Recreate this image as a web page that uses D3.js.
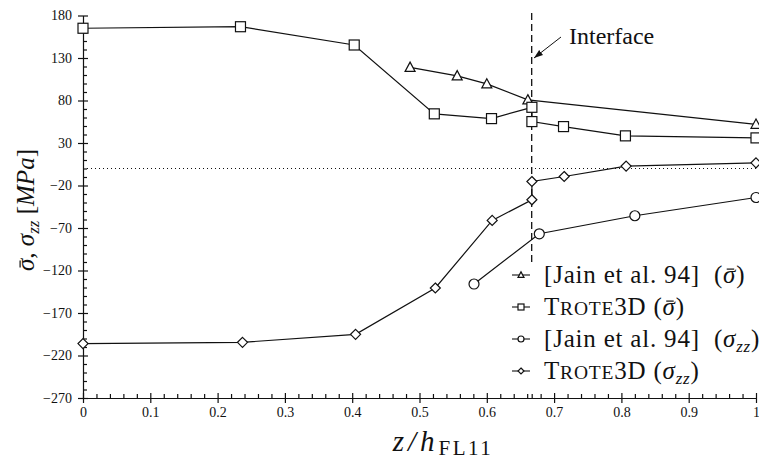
<!DOCTYPE html>
<html>
<head>
<meta charset="utf-8">
<script src="https://cdn.jsdelivr.net/npm/d3@7"></script>
<style>
  body { margin: 0; background: #fff; }
  svg { display: block; }
  text { font-family: "Liberation Serif", "Times New Roman", serif; fill: #111; }
</style>
</head>
<body>
<svg id="chart" width="759" height="460"></svg>
<script>
// ---- data ----
const xTicks = [0, 0.1, 0.2, 0.3, 0.4, 0.5, 0.6, 0.7, 0.8, 0.9, 1];
const xTickLabels = ["0", "0.1", "0.2", "0.3", "0.4", "0.5", "0.6", "0.7", "0.8", "0.9", "1"];
const yTicks = [-270, -220, -170, -120, -70, -20, 30, 80, 130, 180];

const jainBarZ = [0.486, 0.556, 0.600, 0.661, 1.0];
const jainBarV = [119, 109, 99.5, 80.7, 52];

const troteBarZ = [0, 0.234, 0.403, 0.522, 0.607, 0.667, 0.667, 0.714, 0.806, 1.0];
const troteBarV = [165, 166.8, 145.3, 64.3, 58.7, 72, 55.2, 49.3, 38.4, 36];

const jainZzZ = [0.581, 0.678, 0.820, 1.0];
const jainZzV = [-135.9, -76.8, -55.6, -34.1];

const troteZzZ = [0, 0.237, 0.405, 0.5235, 0.608, 0.667, 0.667, 0.715, 0.807, 1.0];
const troteZzV = [-206, -204.5, -195.1, -140.6, -61.1, -36.8, -15.3, -9.4, 2.8, 6.7];

const interfaceZ = 0.6667;

// ---- setup ----
const svg = d3.select("#chart");
const x = d3.scaleLinear().domain([0, 1]).range([83, 756]);
const y = d3.scaleLinear().domain([-270, 180]).range([398, 15.5]);
const ink = "#111";

// zero dotted line
svg.append("line")
  .attr("x1", x(0)).attr("x2", x(1)).attr("y1", y(0)).attr("y2", y(0))
  .attr("stroke", ink).attr("stroke-width", 1).attr("stroke-dasharray", "1,3");

// interface dashed line
svg.append("line")
  .attr("x1", x(interfaceZ)).attr("x2", x(interfaceZ)).attr("y1", 13).attr("y2", 262)
  .attr("stroke", ink).attr("stroke-width", 1.3).attr("stroke-dasharray", "7,4");

// ---- axes ----
const yMinor = d3.range(-270, 181, 10).filter(v => !yTicks.includes(v));
const yAxisMinor = d3.axisLeft(y).tickValues(yMinor).tickSize(-4).tickFormat("").tickSizeOuter(0);
const yAxis = d3.axisLeft(y).tickValues(yTicks).tickSize(5).tickPadding(6).tickSizeOuter(0);
const gyMinor = svg.append("g").attr("transform", `translate(${x(0)},0)`).call(yAxisMinor);
gyMinor.select(".domain").remove();
const gy = svg.append("g").attr("transform", `translate(${x(0)},0)`).call(yAxis);
gy.selectAll(".tick line").attr("x2", -5).attr("x1", 5);
gy.selectAll(".tick text").style("font-family", "Liberation Serif").style("font-size", "14px");

const xMinor = d3.range(0, 1.0001, 0.02).map(v => +v.toFixed(2)).filter(v => Math.abs(v * 10 - Math.round(v * 10)) > 1e-6).concat([interfaceZ]);
const xAxisMinor = d3.axisBottom(x).tickValues(xMinor).tickSize(-4).tickFormat("").tickSizeOuter(0);
const xAxis = d3.axisBottom(x).tickValues(xTicks).tickSize(5).tickPadding(4).tickSizeOuter(0)
  .tickFormat((d, i) => xTickLabels[i]);
const gxMinor = svg.append("g").attr("transform", `translate(0,${y(-270)})`).call(xAxisMinor);
gxMinor.select(".domain").remove();
const gx = svg.append("g").attr("transform", `translate(0,${y(-270)})`).call(xAxis);
gx.selectAll(".tick line").attr("y1", -5).attr("y2", 5);
gx.selectAll(".tick text").style("font-family", "Liberation Serif").style("font-size", "14px");
svg.selectAll(".domain, .tick line").attr("stroke", ink).attr("stroke-width", 1.2);

// ---- marker drawers ----
function drawMarker(g, type, cx, cy, s) {
  let el;
  if (type === "square") {
    el = g.append("rect").attr("x", cx - s / 2).attr("y", cy - s / 2).attr("width", s).attr("height", s);
  } else if (type === "circle") {
    el = g.append("circle").attr("cx", cx).attr("cy", cy).attr("r", s / 2);
  } else if (type === "diamond") {
    const h = s / 2;
    el = g.append("path").attr("d", `M${cx},${cy - h}L${cx + h},${cy}L${cx},${cy + h}L${cx - h},${cy}Z`);
  } else if (type === "triangle") {
    const h = s / 2;
    el = g.append("path").attr("d", `M${cx},${cy - h * 1.05}L${cx + h},${cy + h * 0.8}L${cx - h},${cy + h * 0.8}Z`);
  }
  el.attr("fill", "#fff").attr("stroke", ink).attr("stroke-width", 1.2);
}

const series = [
  { z: jainBarZ, v: jainBarV, type: "triangle", size: 10 },
  { z: troteBarZ, v: troteBarV, type: "square", size: 10 },
  { z: jainZzZ, v: jainZzV, type: "circle", size: 10 },
  { z: troteZzZ, v: troteZzV, type: "diamond", size: 10 }
];

const line = d3.line().x(d => x(d[0])).y(d => y(d[1]));
series.forEach(s => {
  const pts = s.z.map((z, i) => [z, s.v[i]]);
  svg.append("path").attr("d", line(pts)).attr("fill", "none").attr("stroke", ink).attr("stroke-width", 1.2);
});
series.forEach(s => {
  const g = svg.append("g");
  s.z.forEach((z, i) => drawMarker(g, s.type, x(z), y(s.v[i]), s.size));
});

// ---- interface label ----
svg.append("defs").append("marker").attr("id", "arrow")
  .attr("viewBox", "0 0 10 10").attr("refX", 10).attr("refY", 5)
  .attr("markerWidth", 9).attr("markerHeight", 9).attr("orient", "auto")
  .attr("markerUnits", "userSpaceOnUse")
  .append("path").attr("d", "M0,1.5L10,5L0,8.5Z").attr("fill", ink);
svg.append("line").attr("x1", 561).attr("y1", 37).attr("x2", 534).attr("y2", 58)
  .attr("stroke", ink).attr("stroke-width", 1).attr("marker-end", "url(#arrow)");
svg.append("text").attr("x", 569).attr("y", 44).style("font-size", "24px").text("Interface");

// helper: add rich text; parts = [text, size, dy, style, bar, letterSpacing]
function richText(g, xPos, yPos, parts, anchor, spacing) {
  const t = g.append("text").attr("x", xPos).attr("y", yPos).attr("xml:space", "preserve");
  if (anchor) t.attr("text-anchor", anchor);
  if (spacing) t.style("letter-spacing", spacing + "px");
  let idx = 0;
  const bars = [];
  parts.forEach(p => {
    const ts = t.append("tspan").text(p[0]).style("font-size", p[1] + "px").attr("dy", p[2]).style("font-style", p[3]);
    if (p[5] !== undefined) ts.style("letter-spacing", p[5] + "px");
    if (p[4]) bars.push({ idx: idx, size: p[1] });
    idx += p[0].length;
  });
  bars.forEach(b => {
    const r = t.node().getExtentOfChar(b.idx);
    const baseY = r.y + r.height * 0.3;
    g.append("line")
      .attr("x1", r.x + r.width * 0.28).attr("x2", r.x + r.width * 0.85)
      .attr("y1", baseY).attr("y2", baseY)
      .attr("stroke", ink).attr("stroke-width", 1.2);
  });
  return t;
}

// ---- legend ----
const legendRows = [
  { type: "triangle", y: 275, parts: [["[Jain et al. 94]  (", 25, 0, "normal"], ["σ", 25, 0, "italic", true], [")", 25, 0, "normal"]] },
  { type: "square", y: 307, parts: [["T", 25, 0, "normal"], ["ROTE", 19.5, 0, "normal"], ["3D (", 25, 0, "normal"], ["σ", 25, 0, "italic", true], [")", 25, 0, "normal"]] },
  { type: "circle", y: 339, parts: [["[Jain et al. 94]  (", 25, 0, "normal"], ["σ", 25, 0, "italic"], ["zz", 17, 5, "italic"], [")", 25, -5, "normal"]] },
  { type: "diamond", y: 371, parts: [["T", 25, 0, "normal"], ["ROTE", 19.5, 0, "normal"], ["3D (", 25, 0, "normal"], ["σ", 25, 0, "italic"], ["zz", 17, 5, "italic"], [")", 25, -5, "normal"]] }
];
const lg = svg.append("g");
legendRows.forEach(r => {
  lg.append("line").attr("x1", 512).attr("x2", 530).attr("y1", r.y).attr("y2", r.y)
    .attr("stroke", ink).attr("stroke-width", 1.1);
  drawMarker(lg, r.type, 521, r.y, 6);
  richText(lg, 544, r.y + 8, r.parts, null, 0.8);
});

// ---- axis titles ----
const ylg = svg.append("g").attr("transform", "translate(34,210) rotate(-90)");
richText(ylg, 0, 0, [
  ["σ", 25, 0, "italic", true], [", ", 25, 0, "normal"], ["σ", 25, 0, "italic"],
  ["zz", 17, 5, "italic"], [" [", 25, -5, "normal"], ["MPa", 25, 0, "italic"], ["]", 25, 0, "normal"]
], "middle");

richText(svg, 443, 451, [["z/h", 29, 0, "italic", false, 4], ["FL11", 21, 4, "normal", false, 2.5]], "middle");
</script>
</body>
</html>
